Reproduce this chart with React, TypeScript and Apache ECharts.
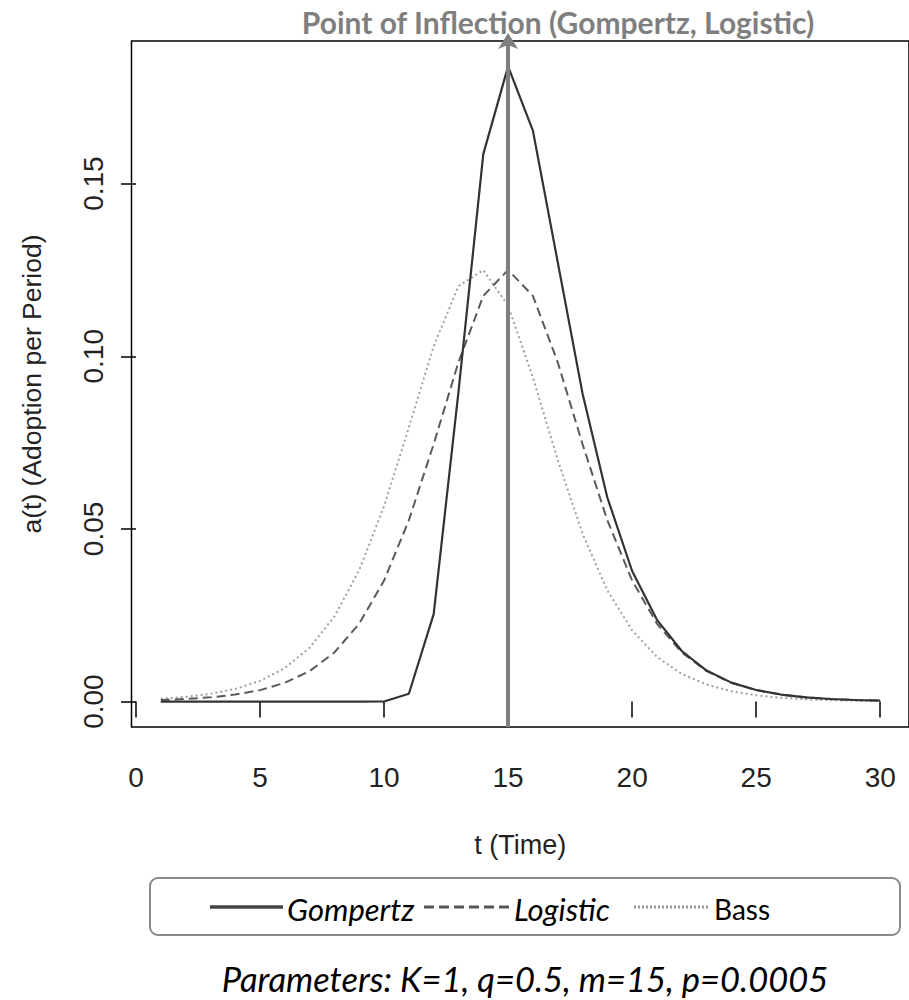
import React, { useEffect, useRef } from "react";
import * as echarts from "echarts";

const times = [1, 2, 3, 4, 5, 6, 7, 8, 9, 10, 11, 12, 13, 14, 15, 16, 17, 18, 19, 20, 21, 22, 23, 24, 25, 26, 27, 28, 29, 30];
const gompertz = [0, 0, 0, 0, 0, 0, 0, 0, 0, 0.00003, 0.00228, 0.02535, 0.08969, 0.15853, 0.18394, 0.16535, 0.12732, 0.08925, 0.0591, 0.03781, 0.02368, 0.01465, 0.00899, 0.00549, 0.00335, 0.00204, 0.00124, 0.00075, 0.00046, 0.00028];
const logistic = [0.00046, 0.00075, 0.00123, 0.00203, 0.00332, 0.00543, 0.00883, 0.01423, 0.02259, 0.03505, 0.0525, 0.07457, 0.09831, 0.1175, 0.125, 0.1175, 0.09831, 0.07457, 0.0525, 0.03505, 0.02259, 0.01423, 0.00883, 0.00543, 0.00332, 0.00203, 0.00123, 0.00075, 0.00046, 0.00028];
const bass = [0.00082, 0.00136, 0.00223, 0.00366, 0.00597, 0.0097, 0.0156, 0.02468, 0.0381, 0.05659, 0.07939, 0.10288, 0.12034, 0.12494, 0.11463, 0.09386, 0.06999, 0.04865, 0.0322, 0.02062, 0.01294, 0.00801, 0.00492, 0.00301, 0.00183, 0.00111, 0.00068, 0.00041, 0.00025, 0.00015];
const seriesNames = ["Gompertz", "Logistic", "Bass"];
const xTicks = [0, 5, 10, 15, 20, 25, 30];
const yTicks = [0, 0.05, 0.1, 0.15];
const inflectionT = 15;
const xRange = [-0.18, 31.16];
const yRange = [-0.00736, 0.1913];
const titleText = "Point of Inflection (Gompertz, Logistic)";
const xTitle = "t (Time)";
const yTitle = "a(t) (Adoption per Period)";
const paramsText = "Parameters: K=1, q=0.5, m=15, p=0.0005";

const narrow = "'Liberation Sans Narrow', 'Liberation Sans', Arial, sans-serif";
const cal = "Lato, 'Open Sans', sans-serif";

export default function App() {
  const ref = useRef<HTMLDivElement>(null);
  useEffect(() => {
    if (!ref.current) return;
    const chart = echarts.init(ref.current, undefined, { renderer: "svg" });
    const pairs = (arr: number[]) => times.map((t, i) => [t, arr[i]]);
    const legendY = 907;
    chart.setOption({
      animation: false,
      backgroundColor: "#fff",
      grid: { left: 131.5, top: 41, width: 785.3, height: 686, show: true, borderColor: "#000", borderWidth: 1.5, containLabel: false },
      xAxis: {
        type: "value", min: xRange[0], max: xRange[1],
        axisLine: { show: false }, splitLine: { show: false },
        axisTick: { show: true, length: 16, customValues: xTicks, lineStyle: { color: "#000", width: 1.5 } },
        axisLabel: { customValues: xTicks, margin: 36, fontSize: 28, fontFamily: narrow, color: "#222" },
        name: xTitle, nameLocation: "middle", nameGap: 104,
        nameTextStyle: { fontSize: 27, fontFamily: narrow, color: "#222" },
      },
      yAxis: {
        type: "value", min: yRange[0], max: yRange[1],
        axisLine: { show: false }, splitLine: { show: false },
        axisTick: { show: true, length: 15, customValues: yTicks, lineStyle: { color: "#000", width: 1.5 } },
        axisLabel: { customValues: yTicks, rotate: 90, margin: 24, fontSize: 28, fontFamily: narrow, color: "#222", formatter: (v: number) => v.toFixed(2) },
        name: yTitle, nameLocation: "middle", nameGap: 86, nameRotate: 90,
        nameTextStyle: { fontSize: 26.5, fontFamily: narrow, color: "#222" },
      },
      series: [
        {
          name: seriesNames[0], type: "line", data: pairs(gompertz), symbol: "none",
          lineStyle: { color: "#333", width: 2.2, type: "solid" }, z: 3,
          markLine: {
            silent: true, symbol: ["none", "arrow"], symbolSize: [15, 16],
            symbolOffset: [[0, 0], [0, -8]],
            lineStyle: { color: "#808080", width: 4, type: "solid" }, label: { show: false },
            data: [{ xAxis: inflectionT }],
          },
        },
        { name: seriesNames[1], type: "line", data: pairs(logistic), symbol: "none", lineStyle: { color: "#5a5a5a", width: 2, type: [9, 5] }, z: 2 },
        { name: seriesNames[2], type: "line", data: pairs(bass), symbol: "none", lineStyle: { color: "#a0a0a0", width: 2, type: [2, 3] }, z: 1 },
      ],
      graphic: [
        { type: "text", x: 558, y: 22, style: { text: titleText, fontSize: 30, fontWeight: "bold", fontFamily: cal, fill: "#7f7f7f", align: "center", verticalAlign: "middle" } },
        { type: "rect", shape: { x: 150, y: 878, width: 750, height: 57, r: 8 }, style: { fill: "none", stroke: "#8a8a8a", lineWidth: 2 } },
        { type: "line", shape: { x1: 210, y1: legendY, x2: 283, y2: legendY }, style: { stroke: "#444", lineWidth: 3.5 } },
        { type: "text", x: 287, y: legendY + 2, style: { text: seriesNames[0], fontSize: 31, fontStyle: "italic", fontFamily: cal, fill: "#000", verticalAlign: "middle" } },
        { type: "line", shape: { x1: 424, y1: legendY, x2: 510, y2: legendY }, style: { stroke: "#555", lineWidth: 3, lineDash: [10, 5] } },
        { type: "text", x: 514, y: legendY + 2, style: { text: seriesNames[1], fontSize: 31, fontStyle: "italic", fontFamily: cal, fill: "#000", verticalAlign: "middle" } },
        { type: "line", shape: { x1: 634, y1: legendY, x2: 710, y2: legendY }, style: { stroke: "#999", lineWidth: 3, lineDash: [2, 2] } },
        { type: "text", x: 714, y: legendY + 2, style: { text: seriesNames[2], fontSize: 28, fontFamily: cal, fill: "#000", verticalAlign: "middle" } },
        { type: "text", x: 525, y: 978, style: { text: paramsText, fontSize: 34.5, fontStyle: "italic", fontFamily: cal, fill: "#000", align: "center", verticalAlign: "middle" } },
      ],
    });
    return () => chart.dispose();
  }, []);
  return <div ref={ref} style={{ position: "absolute", left: 0, top: 0, width: 909, height: 1000 }} />;
}
